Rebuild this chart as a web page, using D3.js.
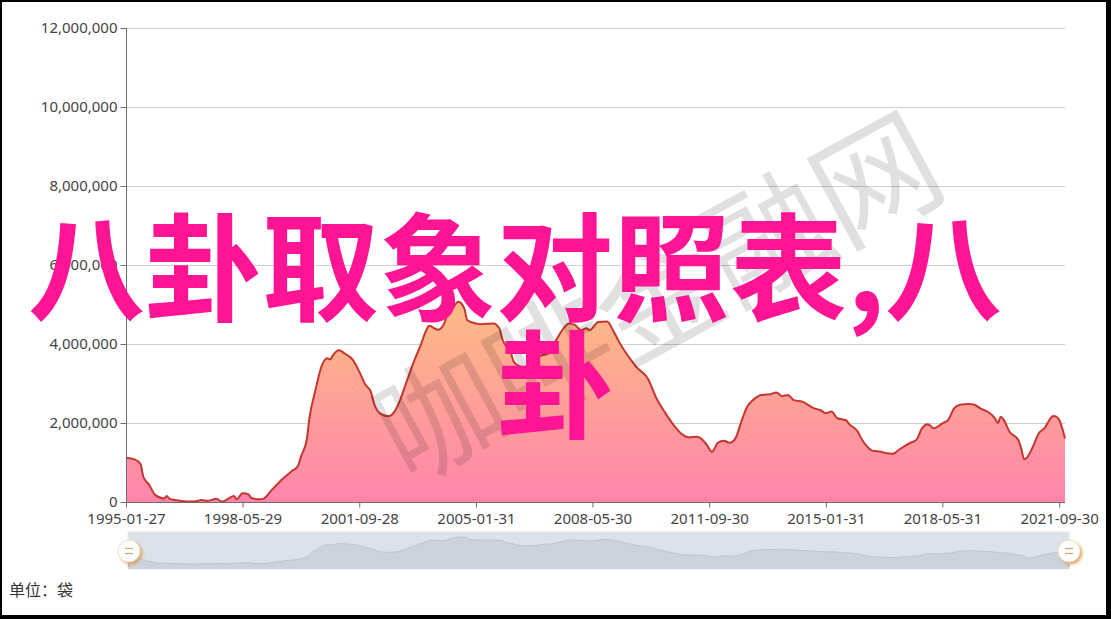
<!DOCTYPE html>
<html>
<head>
<meta charset="utf-8">
<script src="https://cdn.jsdelivr.net/npm/d3@7/dist/d3.min.js"></script>
<style>
  html, body { margin: 0; padding: 0; background: #000; }
  svg { display: block; }
</style>
</head>
<body>
<div id="chart"></div>
<script>
// ── Data (monthly volume) ──
const dates = [
  "1995-01","1995-04","1995-06","1995-07","1995-09","1995-11","1996-02","1996-03","1996-04","1996-06",
  "1996-11","1997-01","1997-03","1997-05","1997-08","1997-10","1997-12","1998-02","1998-03","1998-05",
  "1998-07","1998-08","1998-11","1998-12","1999-03","1999-07","1999-10","1999-12","2000-01","2000-03",
  "2000-04","2000-06","2000-08","2000-10","2000-11","2000-12","2001-02","2001-04","2001-07","2001-09",
  "2001-11","2002-01","2002-02","2002-04","2002-07","2002-09","2002-11","2003-01","2003-04","2003-06",
  "2003-08","2003-09","2003-12","2004-02","2004-03","2004-05","2004-07","2004-09","2004-10","2005-01",
  "2005-03","2005-07","2005-09","2005-10","2006-01","2006-02","2006-05","2006-07","2006-09","2006-10",
  "2006-12","2007-02","2007-04","2007-06","2007-09","2007-11","2008-01","2008-03","2008-04","2008-07",
  "2008-10","2008-12","2009-02","2009-05","2009-08","2009-12","2010-03","2010-06","2010-09","2010-12",
  "2011-02","2011-05","2011-08","2011-10","2011-12","2012-02","2012-04","2012-06","2012-08","2012-10",
  "2012-12","2013-03","2013-06","2013-08","2013-10","2013-12","2014-02","2014-05","2014-09","2014-11",
  "2015-01","2015-03","2015-05","2015-08","2015-09","2015-12","2016-01","2016-03","2016-05","2016-08",
  "2016-09","2016-12","2017-02","2017-06","2017-08","2017-10","2017-12","2018-02","2018-05","2018-07",
  "2018-09","2018-11","2019-02","2019-04","2019-06","2019-09","2019-11","2019-12","2020-01","2020-02",
  "2020-04","2020-07","2020-08","2020-09","2020-10","2020-12","2021-02","2021-04","2021-07","2021-08",
  "2021-09","2021-11"
];
const volumes = [
  1120000,1080000,960000,640000,430000,180000,90000,150000,80000,50000,
  10000,20000,50000,30000,80000,10000,80000,150000,70000,220000,
  200000,100000,70000,80000,300000,600000,790000,910000,1150000,1570000,
  2160000,2840000,3420000,3640000,3610000,3720000,3840000,3760000,3580000,3300000,
  2980000,2780000,2500000,2250000,2170000,2280000,2580000,3000000,3600000,3950000,
  4350000,4460000,4360000,4500000,4690000,4900000,5070000,4900000,4610000,4520000,
  4500000,4520000,4400000,4140000,3760000,3550000,3420000,3440000,3510000,3680000,
  3720000,3760000,4020000,4280000,4520000,4480000,4350000,4400000,4350000,4560000,
  4570000,4350000,4060000,3720000,3420000,3120000,2620000,2250000,1930000,1700000,
  1640000,1650000,1470000,1270000,1500000,1550000,1500000,1610000,2030000,2410000,
  2580000,2710000,2730000,2770000,2680000,2710000,2580000,2540000,2370000,2330000,
  2250000,2290000,2120000,2070000,1970000,1780000,1630000,1420000,1300000,1270000,
  1250000,1220000,1320000,1500000,1570000,1870000,1970000,1870000,1990000,2080000,
  2370000,2460000,2480000,2460000,2370000,2260000,2120000,2000000,2160000,2080000,
  1780000,1570000,1360000,1080000,1130000,1400000,1740000,1870000,2180000,2160000,
  2080000,1610000
];
const xTickLabels = ["1995-01-27","1998-05-29","2001-09-28","2005-01-31","2008-05-30",
                     "2011-09-30","2015-01-31","2018-05-31","2021-09-30"];
const yTicks = [0, 2000000, 4000000, 6000000, 8000000, 10000000, 12000000];
const unitLabel = "单位：袋";
const overlayLines = ["八卦取象对照表,八", "卦"];
const watermark = "咖啡金融网";

// ── Layout ──
const W = 1111, H = 619;
const plot = { left: 126, right: 1065, top: 28, bottom: 502 };
const slider = { left: 128, right: 1069, top: 532, bottom: 569 };

const parseMonth = d3.timeParse("%Y-%m");
const parseDay = d3.timeParse("%Y-%m-%d");
const points = dates.map((d, i) => ({ date: parseMonth(d), v: volumes[i] }));

const svg = d3.select("#chart").append("svg")
  .attr("width", W).attr("height", H)
  .style("font-family", "'Noto Sans', 'Noto Sans CJK SC', sans-serif");

// frame
svg.append("rect").attr("x", 0).attr("y", 0).attr("width", W).attr("height", H).attr("fill", "#000");
svg.append("rect").attr("x", 2).attr("y", 2).attr("width", W - 7).attr("height", H - 6).attr("fill", "#fff");

const defs = svg.append("defs");
const grad = defs.append("linearGradient").attr("id", "areaGrad")
  .attr("x1", 0).attr("y1", 0).attr("x2", 0).attr("y2", 1);
grad.append("stop").attr("offset", "0%").attr("stop-color", "rgb(253,182,122)");
grad.append("stop").attr("offset", "100%").attr("stop-color", "rgb(255,122,165)");

const shadow = defs.append("filter").attr("id", "handleShadow")
  .attr("x", "-50%").attr("y", "-50%").attr("width", "200%").attr("height", "200%");
shadow.append("feDropShadow").attr("dx", 2).attr("dy", 2).attr("stdDeviation", 1.5)
  .attr("flood-color", "#d8953f").attr("flood-opacity", 0.8);

// ── Scales ──
const x = d3.scaleTime()
  .domain([points[0].date, points[points.length - 1].date])
  .range([plot.left, plot.right]);
const y = d3.scaleLinear().domain([0, 12000000]).range([plot.bottom, plot.top]);

// ── Grid lines ──
svg.append("g").selectAll("line").data(yTicks.slice(1)).join("line")
  .attr("x1", plot.left).attr("x2", plot.right)
  .attr("y1", d => y(d) + 0.5).attr("y2", d => y(d) + 0.5)
  .attr("stroke", "#d0d0d0").attr("stroke-width", 1);

// ── Area + line ──
const area = d3.area().x(d => x(d.date)).y0(y(0)).y1(d => y(d.v)).curve(d3.curveMonotoneX);
const line = d3.line().x(d => x(d.date)).y(d => y(d.v)).curve(d3.curveMonotoneX);

svg.append("path").datum(points).attr("d", area)
  .attr("fill", "url(#areaGrad)").attr("fill-opacity", 0.92);
svg.append("path").datum(points).attr("d", line)
  .attr("fill", "none").attr("stroke", "#c4362f").attr("stroke-width", 2)
  .attr("stroke-linejoin", "round");

// ── Axes ──
const yAxis = svg.append("g")
  .attr("transform", `translate(${plot.left + 0.5},0)`)
  .call(d3.axisLeft(y).tickValues(yTicks).tickSize(6).tickPadding(3).tickFormat(d3.format(",")));
yAxis.select(".domain").attr("stroke", "#6e6e6e").attr("d", `M0,${plot.top}V${plot.bottom}`);
yAxis.selectAll(".tick line").attr("stroke", "#6e6e6e");
yAxis.selectAll(".tick text").attr("fill", "#444").attr("font-size", 15)
  .attr("font-family", "'Noto Sans', sans-serif");

const xTicks = xTickLabels.map(s => d3.timeMonth.floor(parseDay(s)));
const xAxis = svg.append("g")
  .attr("transform", `translate(0,${plot.bottom + 0.5})`)
  .call(d3.axisBottom(x).tickValues(xTicks).tickSize(5).tickPadding(6)
    .tickFormat((d, i) => xTickLabels[i]));
xAxis.select(".domain").attr("stroke", "#6e6e6e").attr("d", `M${plot.left},0H${plot.right}`);
xAxis.selectAll(".tick line").attr("stroke", "#6e6e6e");
xAxis.selectAll(".tick text").attr("fill", "#444").attr("font-size", 15)
  .attr("font-family", "'Noto Sans', sans-serif");

// ── Slider (data zoom) ──
const sx = d3.scaleTime().domain(x.domain()).range([slider.left, slider.right]);
const sy = d3.scaleLinear().domain([0, d3.max(volumes)]).range([564, 537]);
svg.append("rect")
  .attr("x", slider.left).attr("y", slider.top)
  .attr("width", slider.right - slider.left).attr("height", slider.bottom - slider.top)
  .attr("fill", "#dce2ea").attr("stroke", "#e6eaf0");
svg.append("path").datum(points)
  .attr("d", d3.area().x(d => sx(d.date)).y0(slider.bottom).y1(d => sy(d.v)).curve(d3.curveMonotoneX))
  .attr("fill", "#ccd3dd");
svg.append("path").datum(points)
  .attr("d", d3.line().x(d => sx(d.date)).y(d => sy(d.v)).curve(d3.curveMonotoneX))
  .attr("fill", "none").attr("stroke", "#bcc4cf").attr("stroke-width", 1);

[slider.left + 1, slider.right].forEach(cx => {
  const h = svg.append("g").attr("transform", `translate(${cx},551)`);
  h.append("line").attr("x1", 0).attr("x2", 0).attr("y1", 8).attr("y2", 16)
    .attr("stroke", "#c9a27a").attr("stroke-width", 1);
  h.append("circle").attr("r", 11).attr("fill", "#fff")
    .attr("stroke", "#f3dcc0").attr("stroke-width", 1)
    .attr("filter", "url(#handleShadow)");
  [-2.5, 2.5].forEach(dy => {
    h.append("line").attr("x1", -4).attr("x2", 4).attr("y1", dy).attr("y2", dy)
      .attr("stroke", "#d9a36c").attr("stroke-width", 1.2);
  });
});

// ── Unit label ──
svg.append("text").attr("x", 9).attr("y", 596)
  .attr("font-family", "'Noto Sans CJK SC', sans-serif")
  .attr("font-size", 16).attr("fill", "#333").text(unitLabel);

// ── Watermark ──
svg.append("text")
  .attr("transform", "translate(654,290) rotate(-28.5)")
  .attr("text-anchor", "middle").attr("dominant-baseline", "central")
  .attr("font-family", "'Noto Sans CJK SC', sans-serif")
  .attr("font-size", 124).attr("fill", "#000").attr("fill-opacity", 0.12)
  .text(watermark);

// ── Overlay title ──
const overlay = svg.append("g")
  .attr("font-family", "'Noto Sans CJK SC', sans-serif")
  .attr("font-weight", "bold").attr("font-size", 117).attr("fill", "#ff1493");
overlay.append("text").attr("x", 28).attr("y", 312).text(overlayLines[0]);
overlay.append("text").attr("x", 497).attr("y", 429).text(overlayLines[1]);
</script>
</body>
</html>
